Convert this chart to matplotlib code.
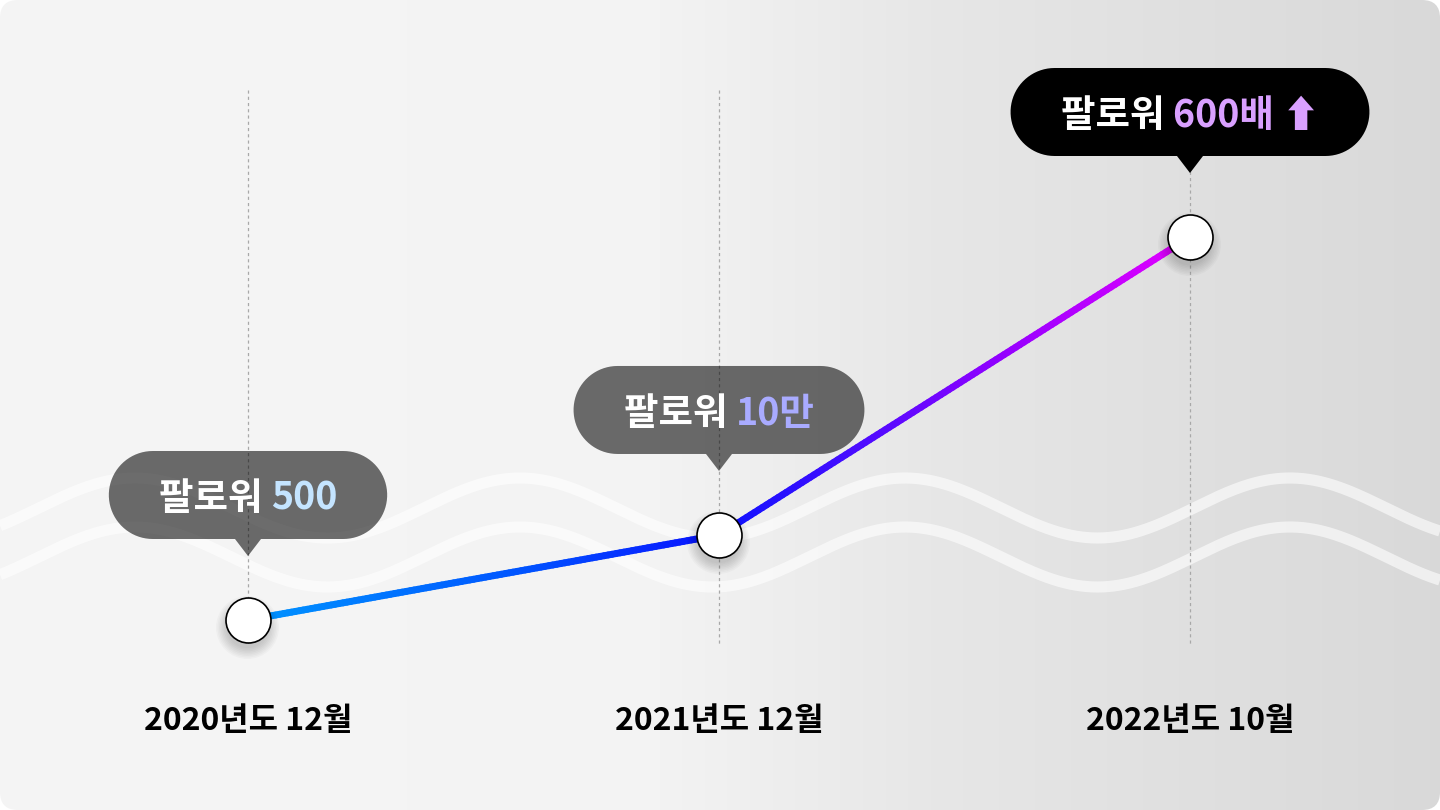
import numpy as np
import matplotlib
matplotlib.use('Agg')
import matplotlib.pyplot as plt
from matplotlib.collections import LineCollection
from matplotlib.colors import LinearSegmentedColormap
from matplotlib.patches import FancyBboxPatch, Polygon
from matplotlib import transforms

plt.rcParams['font.family'] = ['Noto Sans CJK KR', 'DejaVu Sans']

# data
periods = ['2020년도 12월', '2021년도 12월', '2022년도 10월']
prefix = '팔로워'
follower_labels = ['500', '10만', '600배 ⬆']
level = [0.0, 0.222, 1.0]          # visual height of each point (not to scale)
value_colors = ['#c4e4ff', '#a9abff', '#d9a0ff']
bubble_colors = [(0, 0, 0, 0.57), (0, 0, 0, 0.57), (0, 0, 0, 1.0)]

W, H = 1440, 810
fig = plt.figure(figsize=(W / 100, H / 100), dpi=100)
fig.patch.set_facecolor('white')

# pixel axes for the background decoration (y down)
bg = fig.add_axes([0, 0, 1, 1])
bg.set_xlim(0, W)
bg.set_ylim(H, 0)
bg.axis('off')

card = FancyBboxPatch((0, 0), W, H, boxstyle='round,pad=0,rounding_size=18',
                      facecolor='none', edgecolor='none', transform=bg.transData)
bg.add_patch(card)
stops = np.array([0.0, 0.45, 0.65, 1.0])
shade = np.array([0.96, 0.955, 0.905, 0.85])
gx = np.interp(np.linspace(0, 1, 600), stops, shade)
grad = np.dstack([gx, gx, gx])
im = bg.imshow(grad, extent=[0, W, H, 0], aspect='auto', zorder=0)
im.set_clip_path(card)

# decorative waves
wx = np.linspace(0, W, 800)
for base in (508, 557):
    wy = base - 30 * np.cos(2 * np.pi * (wx - 905) / 385)
    bg.plot(wx, wy, color='white', alpha=0.6, lw=8, solid_capstyle='butt', zorder=1)

# data axes: x index 0..2 -> 248..1190 px, level 0..1 -> 620..237 px
ax = fig.add_axes([0, 0, 1, 1])
ax.patch.set_visible(False)
ax.axis('off')
ax.set_autoscale_on(False)
ax.set_xlim(-248 / 471, (W - 248) / 471)
ax.set_ylim(-190 / 383, 620 / 383)

xs = np.arange(len(periods))
ys = np.array(level)

xpix = transforms.blended_transform_factory(ax.transData, bg.transData)

# dashed guides
ax.vlines(xs, 90, 645, transform=xpix, colors='#a8a8a8', lw=0.9,
          linestyles=(0, (2.5, 2.5)), zorder=2)

# gradient line (segments split only to vary the colour along x)
cmap = LinearSegmentedColormap.from_list('g', [
    (0.0, '#0096ff'), (0.3, '#0052ff'), (0.5, '#0a12ff'),
    (0.65, '#4a0cff'), (0.8, '#9200ff'), (1.0, '#e400ff')])
segs, cols = [], []
for i in range(len(xs) - 1):
    t = np.linspace(0, 1, 120)
    px = xs[i] + (xs[i + 1] - xs[i]) * t
    py = ys[i] + (ys[i + 1] - ys[i]) * t
    pts = np.column_stack([px, py])
    segs += [pts[j:j + 2] for j in range(len(pts) - 1)]
    cols += [cmap((px[j] + px[j + 1]) / 2 / xs[-1]) for j in range(len(pts) - 1)]
ax.add_collection(LineCollection(segs, colors=cols, linewidths=5.0,
                                 capstyle='round', zorder=3))

# soft shadow + markers
for k in range(8):
    off = transforms.ScaledTranslation(-1 / 100, -7 / 100, fig.dpi_scale_trans)
    ax.scatter(xs, ys, s=(30 + 2.2 * k) ** 2, color='black', alpha=0.022,
               linewidths=0, transform=ax.transData + off, zorder=4)
ax.scatter(xs, ys, s=32.4 ** 2, facecolor='white', edgecolor='black',
           linewidths=1.2, zorder=5)

# callouts
fig.canvas.draw()
renderer = fig.canvas.get_renderer()
fs = 27
pill_h, tail_w, tail_h, pad = 88, 26, 17, 50
a = np.linspace(0, np.pi, 40)
for i in range(len(xs)):
    mx, my = bg.transData.inverted().transform(ax.transData.transform((xs[i], ys[i])))
    apex = my - 64
    bottom = apex - tail_h
    cy = bottom - pill_h / 2
    full = ax.text(0, 0, prefix + ' ' + follower_labels[i], fontsize=fs,
                   fontweight='bold', transform=bg.transData)
    tw = full.get_window_extent(renderer).width
    full.remove()
    w = tw + 2 * pad
    x0, x1 = mx - w / 2, mx + w / 2
    r = pill_h / 2
    # top-left -> bottom-left arc, tail on the bottom edge, bottom-right -> top-right arc
    left = np.column_stack([x0 + r - r * np.sin(a), cy - r * np.cos(a)])
    tail = np.array([[mx - tail_w / 2, bottom], [mx, apex], [mx + tail_w / 2, bottom]])
    right = np.column_stack([x1 - r + r * np.sin(a), cy + r * np.cos(a)])
    verts = np.vstack([left, tail, right])
    ax.add_patch(Polygon(verts, closed=True, facecolor=bubble_colors[i],
                         edgecolor='none', transform=bg.transData, zorder=6))
    base = cy + 15
    ax.text(mx - tw / 2, base, prefix + ' ', fontsize=fs, fontweight='bold',
            color='white', ha='left', va='baseline', transform=bg.transData, zorder=7)
    ax.text(mx + tw / 2, base, follower_labels[i], fontsize=fs, fontweight='bold',
            color=value_colors[i], ha='right', va='baseline',
            transform=bg.transData, zorder=7)

# period labels
for i, p in enumerate(periods):
    ax.text(xs[i], 721, p, fontsize=23, fontweight='bold', color='black',
            ha='center', va='center', transform=xpix, zorder=7)

fig.savefig('out.png', dpi=100)
